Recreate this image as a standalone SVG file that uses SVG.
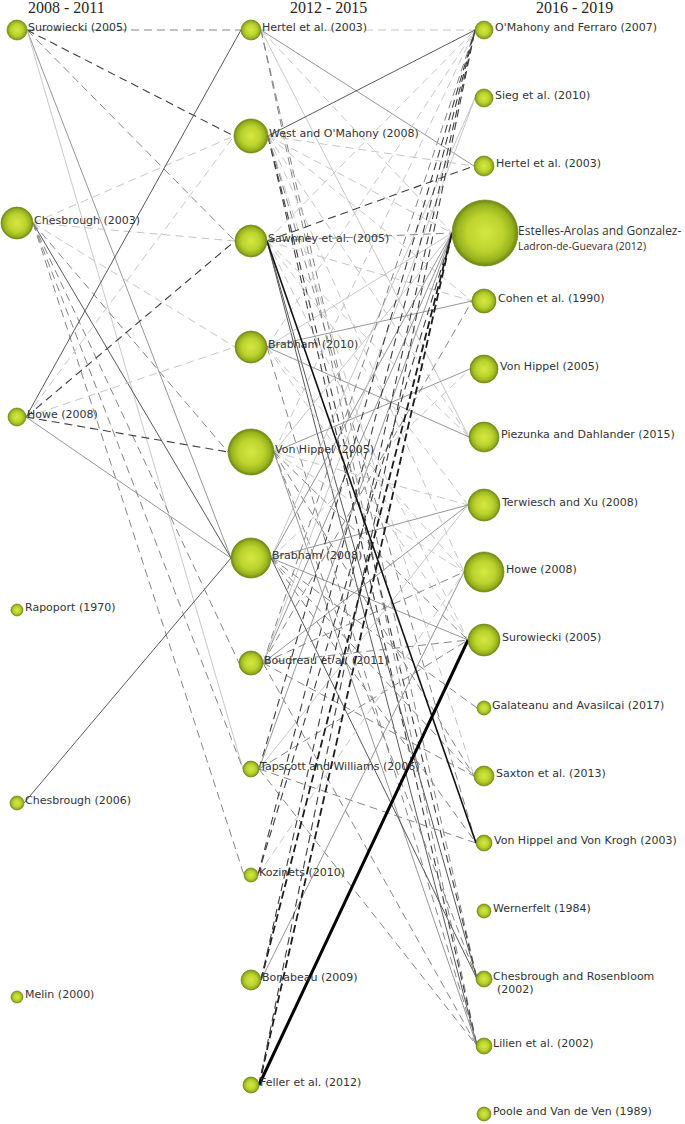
<svg xmlns="http://www.w3.org/2000/svg" width="685" height="1124" viewBox="0 0 685 1124">
<style>
.hd{font-family:"Liberation Serif","Times New Roman",serif;font-size:16px;fill:#2a1f14}
.lb{font-family:"DejaVu Sans",Verdana,sans-serif;font-size:11px;fill:#333}
.lb2{font-family:"Open Sans","DejaVu Sans",sans-serif;font-size:12px;fill:#333}
.lb3{font-family:"Open Sans","DejaVu Sans",sans-serif;font-size:10.5px;fill:#3d2b14}
.nd{fill:url(#g);stroke:#6f8a14;stroke-width:0.7}
line{fill:none}
.s1{stroke:#585858;stroke-width:1}
.s2{stroke:#8a8a8a;stroke-width:0.9}
.s3{stroke:#c2c2c2;stroke-width:0.9}
.d1{stroke:#3e3e3e;stroke-width:1.1;stroke-dasharray:8 5}
.d2{stroke:#858585;stroke-width:1;stroke-dasharray:8 5}
.d3{stroke:#c6c6c6;stroke-width:1;stroke-dasharray:8 5}
.kd{stroke:#1c1c1c;stroke-width:1.8;stroke-dasharray:8 4}
.k1{stroke:#000;stroke-width:3}
.k2{stroke:#111;stroke-width:1.6}
</style>
<defs>
<radialGradient id="g" cx="0.5" cy="0.5" r="0.5">
<stop offset="0" stop-color="#d4e842"/>
<stop offset="0.55" stop-color="#bdd42e"/>
<stop offset="0.85" stop-color="#98b21e"/>
<stop offset="1" stop-color="#6c8612"/>
</radialGradient>
</defs>
<rect width="685" height="1124" fill="#fff"/>
<g id="headers">
<text class="hd" x="28" y="13">2008 - 2011</text>
<text class="hd" x="290" y="13">2012 - 2015</text>
<text class="hd" x="536" y="13">2016 - 2019</text>
</g>
<g id="connectors">
<line class="d2" x1="27" y1="30" x2="241" y2="30"/>
<line class="d1" x1="27" y1="30" x2="234" y2="136"/>
<line class="d2" x1="27" y1="30" x2="235" y2="241"/>
<line class="s2" x1="27" y1="30" x2="231" y2="558"/>
<line class="s3" x1="27" y1="30" x2="243" y2="769"/>
<line class="d3" x1="33" y1="223" x2="234" y2="136"/>
<line class="d3" x1="33" y1="223" x2="235" y2="241"/>
<line class="d3" x1="33" y1="223" x2="235" y2="347"/>
<line class="d2" x1="33" y1="223" x2="228" y2="452"/>
<line class="s1" x1="33" y1="223" x2="231" y2="558"/>
<line class="d2" x1="33" y1="223" x2="239" y2="663"/>
<line class="d2" x1="33" y1="223" x2="243" y2="769"/>
<line class="d2" x1="33" y1="223" x2="244" y2="875"/>
<line class="s1" x1="26" y1="417" x2="241" y2="30"/>
<line class="d3" x1="26" y1="417" x2="234" y2="136"/>
<line class="d1" x1="26" y1="417" x2="235" y2="241"/>
<line class="d3" x1="26" y1="417" x2="235" y2="347"/>
<line class="d1" x1="26" y1="417" x2="228" y2="452"/>
<line class="s2" x1="26" y1="417" x2="231" y2="558"/>
<line class="s1" x1="24" y1="803" x2="231" y2="558"/>
<line class="d3" x1="261" y1="30" x2="475" y2="30"/>
<line class="s2" x1="261" y1="30" x2="474" y2="166"/>
<line class="d2" x1="261" y1="30" x2="477" y2="979"/>
<line class="d2" x1="261" y1="30" x2="477" y2="1046"/>
<line class="s3" x1="261" y1="30" x2="469" y2="437"/>
<line class="d3" x1="261" y1="30" x2="452" y2="233"/>
<line class="s1" x1="268" y1="136" x2="475" y2="30"/>
<line class="d3" x1="268" y1="136" x2="474" y2="166"/>
<line class="d3" x1="268" y1="136" x2="452" y2="233"/>
<line class="d3" x1="268" y1="136" x2="472" y2="301"/>
<line class="d3" x1="268" y1="136" x2="469" y2="437"/>
<line class="d3" x1="268" y1="136" x2="464" y2="572"/>
<line class="d3" x1="268" y1="136" x2="474" y2="776"/>
<line class="d1" x1="268" y1="136" x2="477" y2="979"/>
<line class="d1" x1="268" y1="136" x2="477" y2="1046"/>
<line class="d2" x1="268" y1="136" x2="476" y2="843"/>
<line class="d3" x1="267" y1="241" x2="475" y2="30"/>
<line class="d1" x1="267" y1="241" x2="474" y2="166"/>
<line class="d2" x1="267" y1="241" x2="452" y2="233"/>
<line class="d3" x1="267" y1="241" x2="472" y2="301"/>
<line class="d3" x1="267" y1="241" x2="469" y2="437"/>
<line class="d3" x1="267" y1="241" x2="468" y2="505"/>
<line class="d3" x1="267" y1="241" x2="468" y2="640"/>
<line class="s1" x1="267" y1="241" x2="477" y2="979"/>
<line class="s1" x1="267" y1="241" x2="477" y2="1046"/>
<line class="d3" x1="267" y1="347" x2="475" y2="30"/>
<line class="s3" x1="267" y1="347" x2="452" y2="233"/>
<line class="s2" x1="267" y1="347" x2="472" y2="301"/>
<line class="s2" x1="267" y1="347" x2="469" y2="437"/>
<line class="d3" x1="267" y1="347" x2="468" y2="640"/>
<line class="d3" x1="267" y1="347" x2="464" y2="572"/>
<line class="d2" x1="267" y1="347" x2="477" y2="1046"/>
<line class="d3" x1="274" y1="452" x2="475" y2="30"/>
<line class="s3" x1="274" y1="452" x2="452" y2="233"/>
<line class="s2" x1="274" y1="452" x2="470" y2="369"/>
<line class="d3" x1="274" y1="452" x2="468" y2="505"/>
<line class="d3" x1="274" y1="452" x2="464" y2="572"/>
<line class="d2" x1="274" y1="452" x2="468" y2="640"/>
<line class="d2" x1="274" y1="452" x2="474" y2="776"/>
<line class="s2" x1="274" y1="452" x2="477" y2="1046"/>
<line class="d2" x1="274" y1="452" x2="477" y2="979"/>
<line class="s3" x1="271" y1="558" x2="475" y2="98"/>
<line class="s2" x1="271" y1="558" x2="452" y2="233"/>
<line class="s2" x1="271" y1="558" x2="468" y2="505"/>
<line class="s2" x1="271" y1="558" x2="468" y2="640"/>
<line class="d2" x1="271" y1="558" x2="477" y2="708"/>
<line class="d2" x1="271" y1="558" x2="474" y2="776"/>
<line class="d2" x1="271" y1="558" x2="476" y2="843"/>
<line class="s1" x1="271" y1="558" x2="477" y2="979"/>
<line class="d3" x1="271" y1="558" x2="470" y2="369"/>
<line class="d2" x1="263" y1="663" x2="475" y2="30"/>
<line class="s2" x1="263" y1="663" x2="452" y2="233"/>
<line class="d2" x1="263" y1="663" x2="472" y2="301"/>
<line class="s2" x1="263" y1="663" x2="468" y2="505"/>
<line class="d2" x1="263" y1="663" x2="464" y2="572"/>
<line class="d2" x1="263" y1="663" x2="468" y2="640"/>
<line class="d2" x1="263" y1="663" x2="474" y2="776"/>
<line class="d2" x1="263" y1="663" x2="477" y2="1046"/>
<line class="s3" x1="263" y1="663" x2="475" y2="98"/>
<line class="d1" x1="259" y1="769" x2="475" y2="30"/>
<line class="s2" x1="259" y1="769" x2="452" y2="233"/>
<line class="s3" x1="259" y1="769" x2="468" y2="505"/>
<line class="d2" x1="259" y1="769" x2="468" y2="640"/>
<line class="d2" x1="259" y1="769" x2="476" y2="843"/>
<line class="d2" x1="259" y1="769" x2="477" y2="1046"/>
<line class="d1" x1="258" y1="875" x2="475" y2="30"/>
<line class="d1" x1="258" y1="875" x2="452" y2="233"/>
<line class="d3" x1="258" y1="875" x2="464" y2="572"/>
<line class="kd" x1="261" y1="980" x2="452" y2="233"/>
<line class="s2" x1="261" y1="980" x2="464" y2="572"/>
<line class="d1" x1="261" y1="980" x2="475" y2="30"/>
<line class="kd" x1="259" y1="1085" x2="452" y2="233"/>
<line class="d1" x1="259" y1="1085" x2="475" y2="30"/>
<line class="k2" x1="267" y1="241" x2="476" y2="843"/>
<line class="k1" x1="259" y1="1085" x2="468" y2="640"/>
</g>
<g id="n-l1"><circle class="nd" cx="17" cy="30" r="10"/><text class="lb" x="28" y="31">Surowiecki (2005)</text></g>
<g id="n-l2"><circle class="nd" cx="17" cy="223" r="16"/><text class="lb" x="34" y="224">Chesbrough (2003)</text></g>
<g id="n-l3"><circle class="nd" cx="17" cy="417" r="9"/><text class="lb" x="27" y="418">Howe (2008)</text></g>
<g id="n-l4"><circle class="nd" cx="17" cy="610" r="6"/><text class="lb" x="25" y="611">Rapoport (1970)</text></g>
<g id="n-l5"><circle class="nd" cx="17" cy="803" r="7"/><text class="lb" x="25" y="804">Chesbrough (2006)</text></g>
<g id="n-l6"><circle class="nd" cx="17" cy="997" r="6"/><text class="lb" x="25" y="998">Melin (2000)</text></g>
<g id="n-m1"><circle class="nd" cx="251" cy="30" r="10"/><text class="lb" x="262" y="31">Hertel et al. (2003)</text></g>
<g id="n-m2"><circle class="nd" cx="251" cy="136" r="17"/><text class="lb" x="269" y="137">West and O'Mahony (2008)</text></g>
<g id="n-m3"><circle class="nd" cx="251" cy="241" r="16"/><text class="lb" x="268" y="242">Sawhney et al. (2005)</text></g>
<g id="n-m4"><circle class="nd" cx="251" cy="347" r="16"/><text class="lb" x="268" y="348">Brabham (2010)</text></g>
<g id="n-m5"><circle class="nd" cx="251" cy="452" r="23"/><text class="lb" x="275" y="453">Von Hippel (2005)</text></g>
<g id="n-m6"><circle class="nd" cx="251" cy="558" r="20"/><text class="lb" x="272" y="559">Brabham (2008)</text></g>
<g id="n-m7"><circle class="nd" cx="251" cy="663" r="12"/><text class="lb" x="264" y="664">Boudreau et al. (2011)</text></g>
<g id="n-m8"><circle class="nd" cx="251" cy="769" r="8"/><text class="lb" x="260" y="770">Tapscott and Williams (2006)</text></g>
<g id="n-m9"><circle class="nd" cx="251" cy="875" r="7"/><text class="lb" x="259" y="876">Kozinets (2010)</text></g>
<g id="n-m10"><circle class="nd" cx="251" cy="980" r="10"/><text class="lb" x="262" y="981">Bonabeau (2009)</text></g>
<g id="n-m11"><circle class="nd" cx="251" cy="1085" r="8"/><text class="lb" x="260" y="1086">Feller et al. (2012)</text></g>
<g id="n-r1"><circle class="nd" cx="484" cy="30" r="9"/><text class="lb" x="495" y="31">O'Mahony and Ferraro (2007)</text></g>
<g id="n-r2"><circle class="nd" cx="484" cy="98" r="9"/><text class="lb" x="495" y="99">Sieg et al. (2010)</text></g>
<g id="n-r3"><circle class="nd" cx="484" cy="166" r="10"/><text class="lb" x="496" y="167">Hertel et al. (2003)</text></g>
<g id="n-r4"><circle class="nd" cx="485" cy="233" r="33"/><text class="lb2" x="518" y="235">Estelles-Arolas and Gonzalez-</text><text class="lb3" x="518" y="250">Ladron-de-Guevara (2012)</text></g>
<g id="n-r5"><circle class="nd" cx="484" cy="301" r="12"/><text class="lb" x="498" y="302">Cohen et al. (1990)</text></g>
<g id="n-r6"><circle class="nd" cx="484" cy="369" r="14"/><text class="lb" x="500" y="370">Von Hippel (2005)</text></g>
<g id="n-r7"><circle class="nd" cx="484" cy="437" r="15"/><text class="lb" x="501" y="438">Piezunka and Dahlander (2015)</text></g>
<g id="n-r8"><circle class="nd" cx="484" cy="505" r="16"/><text class="lb" x="502" y="506">Terwiesch and Xu (2008)</text></g>
<g id="n-r9"><circle class="nd" cx="484" cy="572" r="20"/><text class="lb" x="506" y="573">Howe (2008)</text></g>
<g id="n-r10"><circle class="nd" cx="484" cy="640" r="16"/><text class="lb" x="502" y="641">Surowiecki (2005)</text></g>
<g id="n-r11"><circle class="nd" cx="484" cy="708" r="7"/><text class="lb" x="492" y="709">Galateanu and Avasilcai (2017)</text></g>
<g id="n-r12"><circle class="nd" cx="484" cy="776" r="10"/><text class="lb" x="496" y="777">Saxton et al. (2013)</text></g>
<g id="n-r13"><circle class="nd" cx="484" cy="843" r="8"/><text class="lb" x="494" y="844">Von Hippel and Von Krogh (2003)</text></g>
<g id="n-r14"><circle class="nd" cx="484" cy="911" r="7"/><text class="lb" x="493" y="912">Wernerfelt (1984)</text></g>
<g id="n-r15"><circle class="nd" cx="484" cy="979" r="8"/><text class="lb" x="493" y="980">Chesbrough and Rosenbloom</text><text class="lb" x="497" y="993">(2002)</text></g>
<g id="n-r16"><circle class="nd" cx="484" cy="1046" r="8"/><text class="lb" x="493" y="1047">Lilien et al. (2002)</text></g>
<g id="n-r17"><circle class="nd" cx="484" cy="1114" r="7"/><text class="lb" x="493" y="1115">Poole and Van de Ven (1989)</text></g>
</svg>
